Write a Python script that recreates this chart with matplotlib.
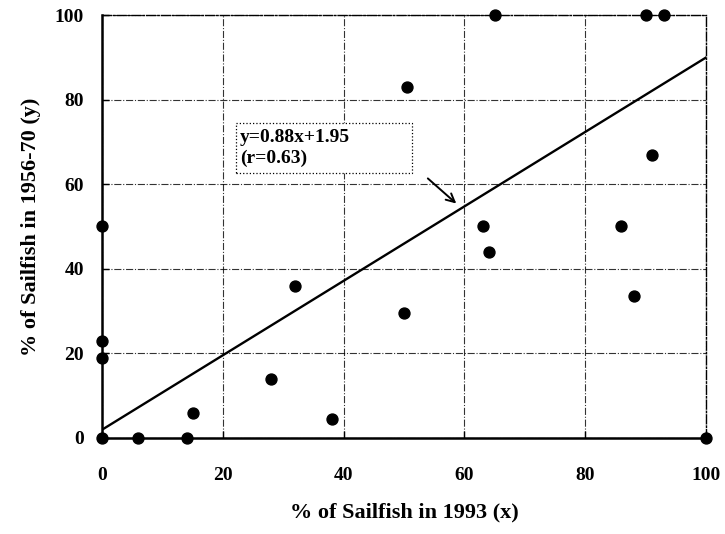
import matplotlib.pyplot as plt
from matplotlib.patches import Rectangle
import numpy as np

plt.rcParams['font.family'] = ['Liberation Serif', 'DejaVu Serif']
plt.rcParams['font.weight'] = 'bold'

x_1993 = [0, 0, 0, 0, 6, 14, 15, 28, 32, 38, 50, 50.5, 63, 64, 65, 86, 88, 90, 91, 93, 100]
y_1956 = [0, 19, 23, 50, 0, 0, 6, 14, 36, 4.5, 29.5, 83, 50, 44, 100, 50, 33.5, 100, 67, 100, 0]
slope = 0.88
intercept = 1.95
ticks = [0, 20, 40, 60, 80, 100]

fig = plt.figure(figsize=(7.25, 5.34), dpi=100)
ax = fig.add_axes([0.1407, 0.1798, 0.8331, 0.7921])

ax.scatter(x_1993, y_1956, s=62, color='black', zorder=4, clip_on=False)

xfit = np.array([0, 100])
ax.plot(xfit, slope * xfit + intercept, color='black', lw=1.7, zorder=3)

ax.set_xlim(0, 100)
ax.set_ylim(0, 100)
ax.set_xticks(ticks)
ax.set_yticks(ticks)
ax.tick_params(direction='in', length=5, width=1, labelsize=14)
ax.tick_params(axis='x', pad=21)
ax.tick_params(axis='y', pad=13)
for lab in ax.get_xticklabels() + ax.get_yticklabels():
    lab.set_fontweight('bold')

ax.grid(True, color='black', linestyle='-.', lw=0.8, alpha=0.8)
ax.spines['left'].set_linewidth(1.8)
ax.spines['bottom'].set_linewidth(1.8)
for s in ['top', 'right']:
    ax.spines[s].set_linestyle('-.')
    ax.spines[s].set_linewidth(1.0)

# equation box
ax.add_patch(Rectangle((22.2, 62.6), 29.2, 11.9, fc='white', ec='black',
                       ls=':', lw=0.9, zorder=5))
ax.text(22.8, 68.6, 'y=0.88x+1.95\n(r=0.63)', fontsize=14, fontweight='bold',
        va='center', ha='left', linespacing=1.25, zorder=6)
ax.annotate('', xy=(59, 55), xytext=(53.6, 61.8),
            arrowprops=dict(arrowstyle='->,head_length=0.6,head_width=0.3', color='black', lw=1.4))

ax.set_xlabel('% of Sailfish in 1993 (x)', fontsize=16, fontweight='bold', labelpad=13)
ax.set_ylabel('% of Sailfish in 1956-70 (y)', fontsize=16, fontweight='bold', labelpad=10)

fig.savefig('out.png', dpi=100)
